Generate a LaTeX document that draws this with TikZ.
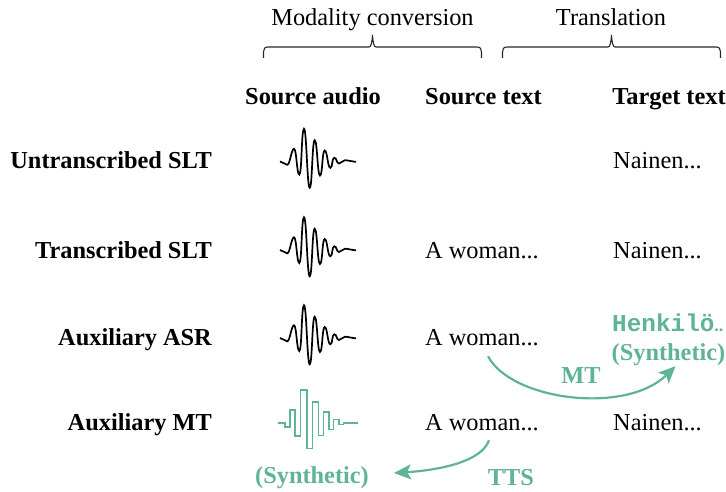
\documentclass[tikz,border=0pt]{standalone}
\usepackage{fontspec}
\setmainfont{Liberation Serif}
\setmonofont{Liberation Mono}
\usetikzlibrary{arrows.meta}
\definecolor{synth}{HTML}{5FB396}
\newcommand{\wv}[1]{.. controls +(2.6,0) and +(-2.6,0) .. (#1)}
\newcommand{\smoothwave}{%
  (0,0) \wv{7.3,3.3} \wv{14,-12.7} \wv{19.3,13} \wv{24,-32.7} \wv{29.7,26.3} \wv{34.7,-21.3} \wv{40,14} \wv{44.7,-11} \wv{50.3,6.3} \wv{54.3,-3.7} \wv{59,2} \wv{65,-1.3} \wv{76,0.3}}
\newcommand{\squarewave}{%
  (-1.2,0) -- (5.5,0) -- (5.5,4) -- (10.5,4) -- (10.5,-12.7) -- (15.5,-12.7) -- (15.5,13.3) -- (20.8,13.3) -- (20.8,-32.7) -- (27.2,-32.7) -- (27.2,25.7) -- (32.8,25.7) -- (32.8,-20.7) -- (38.8,-20.7) -- (38.8,12.7) -- (43.8,12.7) -- (43.8,-10.7) -- (49.5,-10.7) -- (49.5,6.7) -- (53.8,6.7) -- (53.8,-3.3) -- (59.5,-3.3) -- (59.5,1.7) -- (63.8,1.7) -- (63.8,0) -- (78.2,0)}
\tikzset{
  every node/.style={font=\fontsize{24.35}{26}\selectfont,inner sep=0pt,text height=15pt,text depth=5pt},
  rowlabel/.style={anchor=east,font=\fontsize{24.35}{26}\selectfont\bfseries},
  colhead/.style={anchor=center,font=\fontsize{24.35}{26}\selectfont\bfseries},
  celltext/.style={anchor=west},
  synthlabel/.style={text=synth,font=\fontsize{24.35}{26}\selectfont\bfseries},
  wave/.style={draw=black,line width=1.7pt},
  sqwave/.style={draw=synth,line width=1.6pt},
  synthconn/.style={draw=synth,line width=2.2pt,-{Stealth[length=17pt,width=15pt,inset=4pt]}},
  bracestyle/.style={draw=black!85,line width=1.1pt},
}
\begin{document}
\begin{tikzpicture}[x=1pt,y=-1pt]
\useasboundingbox (0,0) rectangle (726,492);
% group headers
\node (modal) at (372.5,21) {Modality conversion};
\node (trans) at (611,21) {Translation};
\draw[bracestyle] (263.5,58) -- (263.5,52) .. controls (263.5,49) and (264.5,47) .. (268,47) -- (369,47) .. controls (371,47) and (372,43) .. (372.5,35) .. controls (373,43) and (374,47) .. (376,47) -- (477,47) .. controls (480.5,47) and (481.5,49) .. (481.5,52) -- (481.5,58);
\draw[bracestyle] (502.5,58) -- (502.5,52) .. controls (502.5,49) and (503.5,47) .. (507,47) -- (608,47) .. controls (610,47) and (611,43) .. (611.5,35) .. controls (612,43) and (613,47) .. (615,47) -- (716,47) .. controls (719.5,47) and (720.5,49) .. (720.5,52) -- (720.5,58);
% column heads
\node[colhead] (hsa) at (313,100) {Source audio};
\node[colhead] (hst) at (483.5,100) {Source text};
\node[colhead] (htt) at (669,100) {Target text};
% row labels
\node[rowlabel] (r1) at (212,164) {Untranscribed SLT};
\node[rowlabel] (r2) at (212,253) {Transcribed SLT};
\node[rowlabel] (r3) at (212,340) {Auxiliary ASR};
\node[rowlabel] (r4) at (212,425) {Auxiliary MT};
% waves
\draw[wave,shift={(280,161.5)}] \smoothwave;
\draw[wave,shift={(280,250)}] \smoothwave;
\draw[wave,shift={(280,338)}] \smoothwave;
\draw[sqwave,shift={(279.5,422.7)}] \squarewave;
% texts
\node[celltext] (t1) at (613,164) {Nainen...};
\node[celltext] (s2) at (425,253) {A woman...};
\node[celltext] (t2) at (613,253) {Nainen...};
\node[celltext] (s3) at (425,340) {A woman...};
\node[anchor=west,text=synth,font=\fontsize{24.35}{26}\selectfont\ttfamily\bfseries] (t3) at (612,326) {Henkil\"o{\rmfamily\fontsize{18}{20}\selectfont ..}};
\node[synthlabel,anchor=west] (t3b) at (611.5,355) {(Synthetic)};
\node[celltext] (s4) at (425,425) {A woman...};
\node[celltext] (t4) at (613,425) {Nainen...};
\node[synthlabel] (ssyn) at (312,478) {(Synthetic)};
\node[synthlabel] (mt) at (581,378) {MT};
\node[synthlabel] (tts) at (511,480) {TTS};
% connectors
\draw[synthconn] ([xshift=6pt,yshift=-6pt]s3.south) .. controls +(23,44) and +(-50,49) .. ([xshift=7pt,yshift=-1pt]t3b.south);
\draw[synthconn] ([xshift=7pt,yshift=-5pt]s4.south) .. controls +(-7,21) and +(47,-3) .. ([xshift=25pt,yshift=5pt]ssyn.east);
\end{tikzpicture}
\end{document}
